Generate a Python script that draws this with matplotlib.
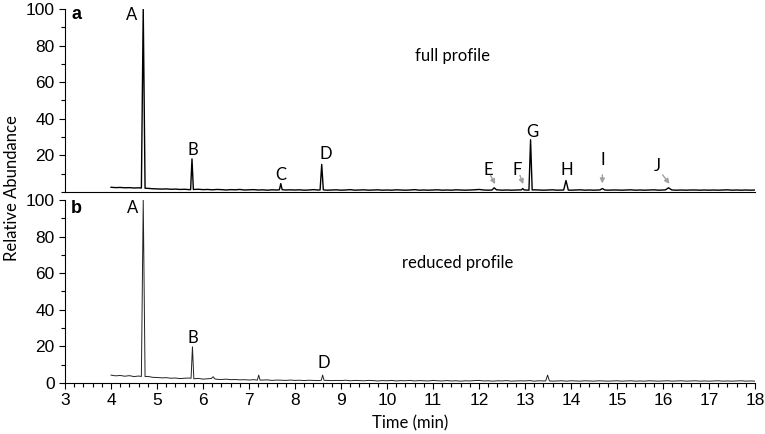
import matplotlib
matplotlib.use("Agg")
import matplotlib.pyplot as plt
import numpy as np
from matplotlib.ticker import MultipleLocator

# baseline readings every 0.1 min from 4.0 to 18.0
base_time = np.round(np.arange(40, 181) / 10.0, 1)

top_base = [
    2.5, 2.3, 2.4, 2.2, 2.3, 2.1, 2.2, 2.0, 1.9, 1.7,
    1.6, 1.5, 1.6, 1.4, 1.5, 1.3, 1.4, 1.2, 1.3, 1.4,
    1.2, 1.3, 1.1, 1.3, 1.2, 1.0, 1.2, 1.1, 1.3, 1.0,
    1.1, 1.2, 1.0, 1.1, 0.9, 1.1, 1.0, 1.2, 1.0, 1.1,
    1.0, 1.1, 0.9, 1.0, 1.2, 1.0, 1.1, 0.9, 1.0, 1.1,
    0.9, 1.0, 1.2, 0.9, 1.0, 1.1, 0.9, 1.0, 1.1, 0.9,
    1.0, 0.9, 1.1, 1.0, 0.9, 1.0, 1.2, 0.9, 1.0, 0.9,
    1.0, 1.1, 0.9, 1.0, 0.9, 1.1, 1.0, 0.9, 1.0, 1.1,
    1.3, 1.0, 0.9, 1.0, 1.1, 0.9, 1.0, 0.9, 1.0, 1.1,
    1.0, 0.9, 1.1, 1.0, 0.9, 1.0, 1.1, 0.9, 1.0, 1.0,
    0.9, 1.0, 1.1, 0.9, 1.0, 0.9, 1.0, 1.1, 0.9, 1.0,
    1.0, 0.9, 1.0, 1.1, 0.9, 1.0, 0.9, 1.0, 1.1, 0.9,
    1.0, 1.1, 1.0, 0.9, 1.0, 0.9, 1.0, 1.0, 0.9, 1.0,
    0.9, 1.0, 0.9, 1.0, 1.1, 0.9, 1.0, 0.9, 1.0, 0.9,
    1.0,
]

bottom_base = [
    4.2, 3.8, 4.0, 3.6, 3.9, 3.4, 3.7, 3.3, 3.5, 3.0,
    2.9, 2.7, 2.8, 2.5, 2.6, 2.3, 2.5, 2.6, 2.2, 2.4,
    2.0, 2.2, 2.4, 1.9, 1.8, 2.0, 1.7, 1.8, 1.6, 1.7,
    1.5, 1.7, 1.4, 1.5, 1.6, 1.3, 1.5, 1.4, 1.3, 1.5,
    1.3, 1.4, 1.2, 1.4, 1.3, 1.2, 1.4, 1.3, 1.2, 1.3,
    1.2, 1.4, 1.1, 1.3, 1.2, 1.1, 1.3, 1.2, 1.0, 1.2,
    1.1, 1.3, 1.0, 1.2, 1.1, 1.3, 1.0, 1.2, 1.1, 1.0,
    1.3, 1.1, 1.0, 1.2, 1.0, 1.1, 0.9, 1.1, 1.0, 1.2,
    1.3, 1.0, 1.1, 0.9, 1.1, 1.0, 1.2, 0.9, 1.0, 1.1,
    1.0, 1.2, 0.9, 1.1, 1.0, 1.1, 0.9, 1.0, 1.1, 0.9,
    1.1, 1.0, 0.9, 1.1, 1.0, 0.9, 1.1, 1.0, 0.9, 1.0,
    1.1, 0.9, 1.0, 1.1, 0.9, 1.0, 0.9, 1.1, 1.0, 0.9,
    1.0, 1.1, 0.9, 1.0, 1.1, 0.9, 1.0, 1.1, 0.9, 1.0,
    0.9, 1.0, 1.1, 0.9, 1.0, 0.9, 1.0, 1.1, 0.9, 1.0,
    0.9,
]

# peaks: retention time, apex height, half width at base
top_peak_time = [4.70, 5.76, 7.69, 8.58, 12.33, 12.95, 13.12, 13.89, 14.68, 16.12]
top_peak_height = [100, 18, 4.5, 15, 2.2, 1.8, 28.5, 6.2, 1.8, 2.2]
top_peak_width = [0.04, 0.03, 0.03, 0.035, 0.05, 0.03, 0.035, 0.05, 0.05, 0.07]

bottom_peak_time = [4.70, 5.77, 6.22, 7.21, 8.60, 13.49]
bottom_peak_height = [100, 19.7, 3.3, 4.2, 4.2, 4.2]
bottom_peak_width = [0.04, 0.03, 0.04, 0.03, 0.03, 0.04]

top_labels = ["A", "B", "C", "D", "E", "F", "G", "H", "I", "J"]
top_label_x = [4.45, 5.78, 7.69, 8.66, 12.20, 12.84, 13.17, 13.91, 14.68, 15.88]
top_label_y = [97, 23, 9.3, 20.8, 12, 12, 32.5, 12, 17.5, 14]

bottom_labels = ["A", "B", "D"]
bottom_label_x = [4.47, 5.79, 8.63]
bottom_label_y = [95.5, 24.3, 10.6]

# gray arrows for minor peaks (start x, start y, end x, end y)
arrow_x0 = [12.25, 12.89, 14.68, 15.99]
arrow_y0 = [9.0, 9.0, 9.3, 9.3]
arrow_x1 = [12.35, 12.96, 14.68, 16.14]
arrow_y1 = [4.2, 4.2, 4.6, 4.4]


def build_trace(bt, by, pt, ph, pw):
    bt = np.asarray(bt)
    by = np.asarray(by, dtype=float)
    keep = np.ones(len(bt), dtype=bool)
    for t, w in zip(pt, pw):
        keep &= np.abs(bt - t) > w
    xs = list(bt[keep])
    ys = list(by[keep])
    for t, h, w in zip(pt, ph, pw):
        for x in (t - w, t + w):
            xs.append(x)
            ys.append(np.interp(x, bt, by))
        xs.append(t)
        ys.append(h)
    order = np.argsort(xs)
    return np.array(xs)[order], np.array(ys)[order]


label_font = "Lato"
tick_font = "Liberation Sans"
tick_size = 12.5
label_size = 12

fig = plt.figure(figsize=(7.65, 4.34), dpi=100)
ax1 = fig.add_axes([0.085, 0.558, 0.902, 0.421])
ax2 = fig.add_axes([0.085, 0.118, 0.902, 0.421])

tx, ty = build_trace(base_time, top_base, top_peak_time, top_peak_height, top_peak_width)
bx, by = build_trace(base_time, bottom_base, bottom_peak_time, bottom_peak_height, bottom_peak_width)

ax1.plot(tx, ty, color="black", linewidth=1.0)
ax2.plot(bx, by, color="#222222", linewidth=0.7)

for ax in (ax1, ax2):
    ax.set_xlim(3, 18)
    ax.set_ylim(0, 100)
    ax.spines["top"].set_visible(False)
    ax.spines["right"].set_visible(False)
    ax.yaxis.set_minor_locator(MultipleLocator(10))
    ax.tick_params(axis="y", which="major", length=4, width=0.8)
    ax.tick_params(axis="y", which="minor", length=3, width=0.8)

ax1.set_yticks([20, 40, 60, 80, 100])
ax1.set_yticklabels(["20", "40", "60", "80", "100"], fontfamily=tick_font, fontsize=tick_size)
ax1.set_xticks([])
ax2.set_yticks([0, 20, 40, 60, 80, 100])
ax2.set_yticklabels(["0", "20", "40", "60", "80", "100"], fontfamily=tick_font, fontsize=tick_size)

ax2.xaxis.set_minor_locator(MultipleLocator(0.2))
ax2.tick_params(axis="x", which="major", length=4, width=0.8)
ax2.tick_params(axis="x", which="minor", length=3, width=0.8)
ax2.set_xticks(np.arange(3, 19))
ax2.set_xticklabels([str(v) for v in range(3, 19)], fontfamily=tick_font, fontsize=tick_size)
ax2.set_xlabel("Time (min)", fontfamily=label_font, fontsize=label_size, labelpad=5)

for name, x, y in zip(top_labels, top_label_x, top_label_y):
    ax1.text(x, y, name, ha="center", va="center", fontfamily=label_font, fontsize=label_size)
for name, x, y in zip(bottom_labels, bottom_label_x, bottom_label_y):
    ax2.text(x, y, name, ha="center", va="center", fontfamily=label_font, fontsize=label_size)

for x0, y0, x1, y1 in zip(arrow_x0, arrow_y0, arrow_x1, arrow_y1):
    ax1.annotate("", xy=(x1, y1), xytext=(x0, y0),
                 arrowprops=dict(arrowstyle="-|>", color="#a0a0a0", lw=1,
                                 mutation_scale=7, shrinkA=0, shrinkB=0))

ax1.text(3.13, 97, "a", ha="left", va="center", fontweight="bold",
         fontfamily=tick_font, fontsize=13)
ax2.text(3.13, 95.5, "b", ha="left", va="center", fontweight="bold",
         fontfamily=tick_font, fontsize=13)
ax1.text(11.43, 74.5, "full profile", ha="center", va="center",
         fontfamily=label_font, fontsize=label_size)
ax2.text(11.54, 65.5, "reduced profile", ha="center", va="center",
         fontfamily=label_font, fontsize=label_size)

fig.text(0.016, 0.567, "Relative Abundance", rotation=90, ha="center", va="center",
         fontfamily=label_font, fontsize=label_size)

fig.savefig("out.png", dpi=100)
